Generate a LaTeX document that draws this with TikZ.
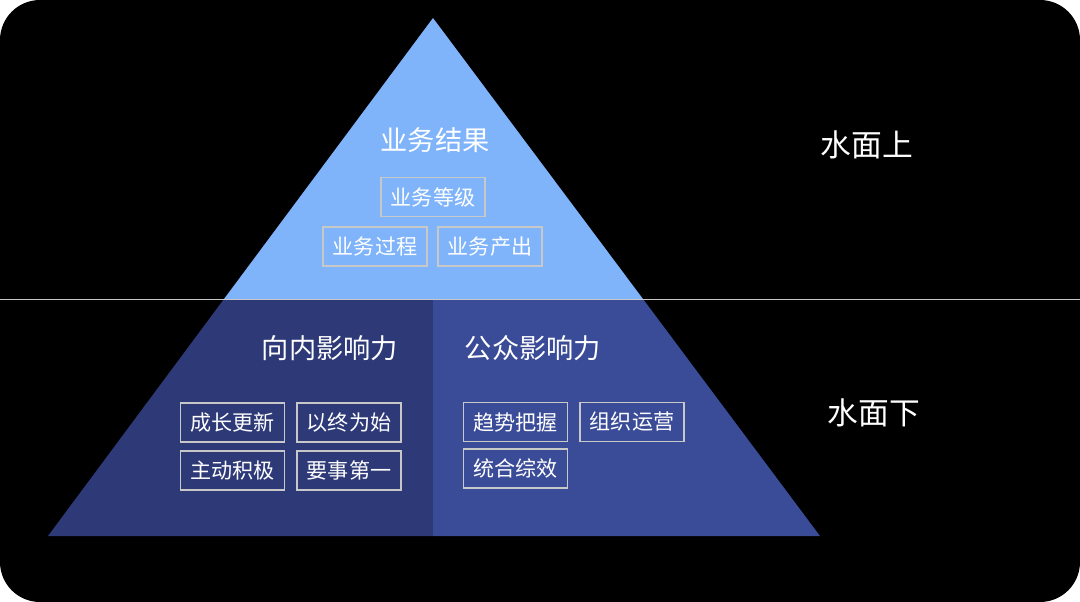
\documentclass[tikz,border=0pt]{standalone}
\usepackage{fontspec}
\setmainfont{Noto Sans CJK SC}
\usetikzlibrary{positioning}

\definecolor{topblue}{HTML}{7FB4FA}
\definecolor{leftblue}{HTML}{2E3A78}
\definecolor{rightblue}{HTML}{3A4C97}
\definecolor{rulegray}{HTML}{C8C8C8}

\tikzset{
  itembox/.style={draw=rulegray, line width=0.8pt, text=white, rectangle,
    minimum width=2.08cm, minimum height=0.78cm, inner sep=0pt, font=\fontsize{12}{14}\selectfont},
  heading/.style={text=white, font=\fontsize{15.5}{18}\selectfont},
  sidelabel/.style={text=white, font=\fontsize{17.5}{20}\selectfont}
}

\begin{document}
\begin{tikzpicture}[x=0.02cm, y=-0.02cm]
\useasboundingbox (0,0) rectangle (1080,602);
\fill[white] (0,0) rectangle (1080,602);
\fill[black, rounded corners=0.8cm] (0,0) rectangle (1080,602);

% pyramid
\fill[topblue] (433,18) -- (224,299) -- (643,299) -- cycle;
\fill[leftblue] (224,299) -- (48,536) -- (433,536) -- (433,299) -- cycle;
\fill[rightblue] (433,299) -- (433,536) -- (820,536) -- (643,299) -- cycle;

% water line
\coordinate (waterW) at (0,299.5);
\coordinate (waterE) at (1080,299.5);
\draw[rulegray, line width=0.8pt] (waterW) -- (waterE);

% above water
\node[heading] (result) at (435,140) {业务结果};
\node[itembox] (grade) at (433,197) {业务等级};
\node[itembox] (process) at (375,246.5) {业务过程};
\node[itembox] (output) at (490,246.5) {业务产出};

% inner influence
\node[heading] (inner) at (330,348) {向内影响力};
\node[itembox] (renew) at (232.5,422.5) {成长更新};
\node[itembox] (begin) at (349,422.5) {以终为始};
\node[itembox] (proactive) at (232.5,470.5) {主动积极};
\node[itembox] (first) at (349,470.5) {要事第一};

% public influence
\node[heading] (public) at (533,348) {公众影响力};
\node[itembox] (trend) at (515.5,422) {趋势把握};
\node[itembox] (operate) at (632,422) {组织运营};
\node[itembox] (synergy) at (515.5,468.5) {统合综效};

% side labels
\node[sidelabel] (above) at (867,145) {水面上};
\node[sidelabel] (below) at (874,413) {水面下};
\end{tikzpicture}
\end{document}
